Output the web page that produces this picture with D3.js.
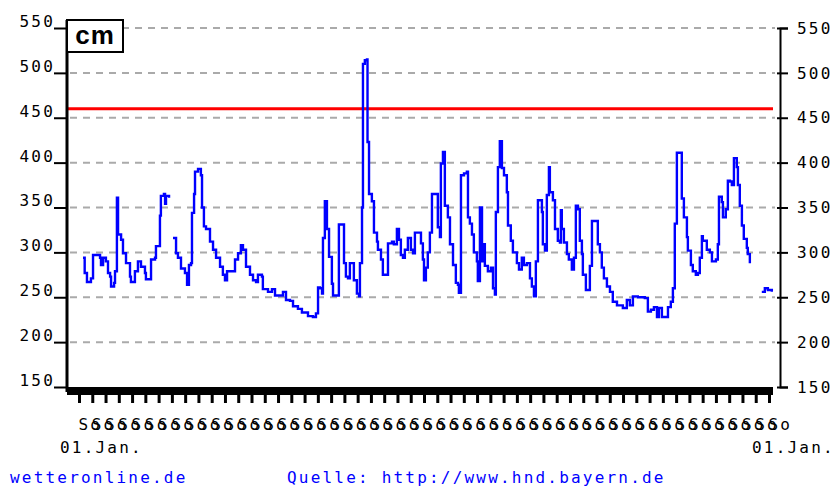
<!DOCTYPE html>
<html>
<head>
<meta charset="utf-8">
<script src="https://cdn.jsdelivr.net/npm/d3@7"></script>
<style>
	body { margin: 0; background: #fff; }
	svg text { font-family: "DejaVu Sans Mono", monospace; font-size: 16px; letter-spacing: 2.2px; fill: #000; }
</style>
</head>
<body>
<script>

/* water level chart: one year, weekly ticks, warning line */

// day of year for each reading (null level = no data)
var days = [
	2.1, 3.0, 4.2, 6.3, 7.4, 9.0, 11.1, 11.6, 12.7, 14.2, 15.3, 16.4, 16.9, 18.5, 19.0, 20.0, 20.6,
	22.2, 23.2, 24.8, 26.9, 27.4, 29.5, 31.1, 32.7, 34.8, 35.3, 37.4, 38.0, 40.1, 40.6, 41.7, 42.7,
	43.2, 44.8, 45.4, 45.9, 47.5, 48.5,
	49.6, 51.2, 52.2, 53.8, 55.9, 57.0, 58.0, 59.1, 59.6, 60.7, 61.2, 62.8, 64.3, 64.9, 65.9, 67.0,
	69.1, 70.7, 72.3, 74.4, 75.9, 77.0, 78.1, 81.2, 82.3, 83.9, 85.4, 86.5, 88.1, 90.2, 91.8, 93.4,
	94.4, 96.5, 97.0, 99.7, 101.8, 103.4, 106.0, 107.6, 109.2, 111.3, 112.9, 115.5, 117.6, 119.2,
	120.8, 123.4, 125.0, 126.1, 127.1, 128.2, 128.7, 129.7, 130.8, 131.9, 133.4, 134.0, 136.1, 137.1,
	138.7, 139.8, 140.8, 141.9, 142.9, 144.5, 145.0, 146.6, 147.7, 148.2, 149.3, 149.8, 150.8, 151.9,
	152.2, 153.0, 154.5, 155.6, 157.2, 157.7, 159.3, 160.3, 162.4, 163.0, 165.1, 166.1, 167.7, 168.8,
	169.8, 170.9, 171.9, 173.5, 175.1, 176.2, 177.2, 178.8, 180.4, 181.4, 182.0, 183.0, 184.0, 185.1,
	186.2, 188.8, 189.3, 190.4, 190.9, 192.0, 193.0, 194.6, 195.7, 197.3, 198.8, 199.9, 200.4, 201.5,
	203.1, 204.6, 205.2, 206.2, 207.3, 208.3, 209.9, 210.4, 211.5, 212.6, 213.1, 214.1, 215.7, 217.3,
	218.4, 219.4, 219.9, 221.0, 222.0, 223.1, 224.2, 225.7, 226.3, 227.8, 228.9, 231.0, 232.1, 233.6,
	234.7, 236.3, 237.9, 238.9, 240.0, 241.0, 242.1, 243.1, 244.2, 244.7, 245.8, 246.8, 247.9, 248.4,
	250.0, 251.1, 252.6, 253.7, 254.2, 254.7, 255.8, 257.4, 258.4, 260.0, 261.1, 262.1, 263.2, 264.2,
	265.3, 265.8, 267.4, 268.5, 269.5, 270.6, 272.7, 273.7, 274.8, 275.8, 276.9, 278.5, 280.1, 281.6,
	283.8, 285.3, 286.9, 289.0, 290.6, 292.2, 294.8, 298.5, 300.1, 301.7, 303.3, 304.9, 305.9, 307.5,
	309.6, 310.7, 312.2, 313.3, 314.3, 315.4, 317.5, 318.0, 319.1, 320.7, 321.2, 322.8, 323.8, 325.4,
	326.5, 327.5, 328.6, 329.1, 330.2, 331.2, 332.8, 333.9, 336.0, 337.0, 337.6, 339.1, 339.7, 341.2,
	342.3, 343.4, 344.4, 345.5, 347.0, 347.6, 348.6, 349.7, 350.7, 352.3, 352.8, 353.9, 355.0,
	360.2, 361.8, 363.4, 365.5
];

// water level in cm
var levels = [
	294, 277, 267, 271, 297, 297, 294, 286, 294, 290, 277, 273, 262, 266, 279, 361, 320,
	314, 299, 288, 273, 267, 279, 290, 284, 277, 270, 270, 292, 294, 307, 307, 341,
	363, 365, 354, 363, 361, null,
	316, 299, 294, 282, 277, 264, 286, 288, 344, 365, 390, 393, 386, 350, 329, 326,
	312, 303, 294, 284, 275, 269, 279, 279, 292, 299, 308, 303, 284, 275, 269, 267,
	275, 273, 259, 256, 259, 252, 252, 256, 247, 246, 240, 237, 233, 233,
	229, 228, 232, 261, 260, 254, 316, 357, 326, 295, 265, 252, 252, 331,
	331, 288, 273, 271, 288, 288, 269, 254, 251, 288, 350, 510, 514, 515,
	423, 365, 357, 322, 312, 303, 292, 275, 275, 310, 312, 309, 326, 314,
	297, 294, 303, 316, 303, 299, 322, 322, 310, 292, 269, 283, 300, 322,
	365, 365, 328, 317, 399, 412, 352, 339, 309, 286, 266, 264, 255, 386,
	388, 390, 339, 332, 320, 300, 290, 268, 350, 290, 309, 285, 279, 283,
	260, 253, 345, 395, 424, 394, 386, 367, 330, 313, 300, 288, 281, 294,
	286, 288, 271, 262, 251, 290, 358, 358, 345, 309, 302, 364, 395, 367,
	358, 326, 313, 311, 347, 326, 311, 298, 292, 281, 294, 352, 348, 313,
	298, 275, 258, 258, 285, 335, 335, 309, 300, 283, 271, 262, 256, 245,
	241, 241, 238, 247, 241, 251, 250, 249, 234, 236, 239, 228, 238, 228,
	228, 239, 245, 260, 332, 411, 411, 360, 339, 317, 302, 286, 279, 275,
	277, 294, 318, 313, 313, 303, 300, 290, 292, 309, 362, 356, 339, 348,
	380, 379, 375, 405, 395, 375, 352, 330, 315, 305, 298, 288, null,
	256, 260, 258, 256
];

var levelTicks = [150, 200, 250, 300, 350, 400, 450, 500, 550];
var weekDays = [0, 7, 14, 21, 28, 35, 42, 49, 56, 63, 70, 77, 84, 91, 98, 105, 112, 119, 126, 133,
	140, 147, 154, 161, 168, 175, 182, 189, 196, 203, 210, 217, 224, 231, 238, 245, 252, 259, 266,
	273, 280, 287, 294, 301, 308, 315, 322, 329, 336, 343, 350, 357, 364];
var weekLabel = "So";
var warnLevel = 460;
var unit = "cm";
var startLabel = "01.Jan.";
var endLabel = "01.Jan.";
var siteLabel = "wetteronline.de";
var sourceLabel = "Quelle: http://www.hnd.bayern.de";

var width = 834;
var height = 486;

var readings = days.map(function(d, i) { return { day: d, level: levels[i] }; });

// scales
var xScale = d3.scaleLinear()
			.domain([0, 364])
			.range([79, 769]);

var yScale = d3.scaleLinear()
			.domain([150, 550])
			.range([387, 28]);

var svg = d3.select("body")
			.append("svg")
				.attr("width", width)
				.attr("height", height);

// dashed grid
svg.append("g")
	.selectAll("line")
	.data(levelTicks.filter(v => v > 150))
	.enter()
	.append("line")
		.attr("x1", 70)
		.attr("x2", 775)
		.attr("y1", d => yScale(d))
		.attr("y2", d => yScale(d))
		.attr("stroke", "#aaaaaa")
		.attr("stroke-width", 2)
		.attr("stroke-dasharray", "7,6");

// warning level
svg.append("line")
	.attr("x1", 67)
	.attr("x2", 773)
	.attr("y1", yScale(warnLevel))
	.attr("y2", yScale(warnLevel))
	.attr("stroke", "#ff0000")
	.attr("stroke-width", 3);

// level line
var line = d3.line()
		.defined(d => d.level != null)
		.x(d => xScale(d.day))
		.y(d => yScale(d.level))
		.curve(d3.curveStepAfter);

svg.append("path")
	.datum(readings)
	.attr("d", line)
	.attr("fill", "none")
	.attr("stroke", "#0000ff")
	.attr("stroke-width", 2.4);

// bottom bar + week ticks
svg.append("rect")
	.attr("x", 67)
	.attr("y", yScale(150))
	.attr("width", 706)
	.attr("height", 8)
	.attr("fill", "#000");

var xAxis = d3.axisBottom(xScale)
		.tickValues(weekDays)
		.tickSize(8)
		.tickFormat(() => weekLabel);

var gx = svg.append("g")
	.attr("transform", "translate(0," + (yScale(150) + 8) + ")")
	.call(xAxis);
gx.select(".domain").remove();
gx.selectAll(".tick line").attr("stroke", "#000").attr("stroke-width", 3);
gx.selectAll(".tick text")
	.attr("text-anchor", "start")
	.attr("x", -1)
	.attr("y", 35)
	.attr("dy", null)
	.attr("font-family", null)
	.attr("font-size", null);
gx.attr("font-family", null).attr("font-size", null);

// left axis
var yAxisLeft = d3.axisLeft(yScale)
		.tickValues(levelTicks)
		.tickSize(13)
		.tickSizeOuter(0);

var gl = svg.append("g")
	.attr("transform", "translate(67,0)")
	.call(yAxisLeft);
gl.attr("font-family", null).attr("font-size", null);
gl.select(".domain").remove();
gl.selectAll(".tick line").attr("stroke", "#000").attr("stroke-width", 2);
gl.selectAll(".tick text")
	.attr("x", -12)
	.attr("dy", "-0.1em");

svg.append("line")
	.attr("x1", 67)
	.attr("x2", 67)
	.attr("y1", 20)
	.attr("y2", yScale(150) + 5)
	.attr("stroke", "#000")
	.attr("stroke-width", 3);

// right axis
var yAxisRight = d3.axisRight(yScale)
		.tickValues(levelTicks)
		.tickSize(8)
		.tickPadding(9);

var gr = svg.append("g")
	.attr("transform", "translate(780,0)")
	.call(yAxisRight);
gr.attr("font-family", null).attr("font-size", null);
gr.select(".domain").attr("stroke", "#000").attr("stroke-width", 2);
gr.selectAll(".tick line").attr("x1", -3).attr("stroke", "#000").attr("stroke-width", 2);

// unit box
svg.append("rect")
	.attr("x", 67)
	.attr("y", 20)
	.attr("width", 56)
	.attr("height", 32)
	.attr("fill", "#fff")
	.attr("stroke", "#000")
	.attr("stroke-width", 2);
svg.append("text")
	.attr("x", 95)
	.attr("y", 44)
	.attr("text-anchor", "middle")
	.style("font-family", "'Liberation Sans', Arial, sans-serif")
	.style("font-weight", "bold")
	.style("font-size", "26px")
	.style("letter-spacing", "1px")
	.text(unit);

// date labels
svg.append("text")
	.attr("x", 60)
	.attr("y", 453)
	.text(startLabel);
svg.append("text")
	.attr("x", 752)
	.attr("y", 453)
	.text(endLabel);

// footer
svg.append("text")
	.attr("x", 10)
	.attr("y", 483)
	.style("fill", "#0000ff")
	.text(siteLabel);
svg.append("text")
	.attr("x", 287)
	.attr("y", 483)
	.style("fill", "#0000ff")
	.text(sourceLabel);

</script>
</body>
</html>
